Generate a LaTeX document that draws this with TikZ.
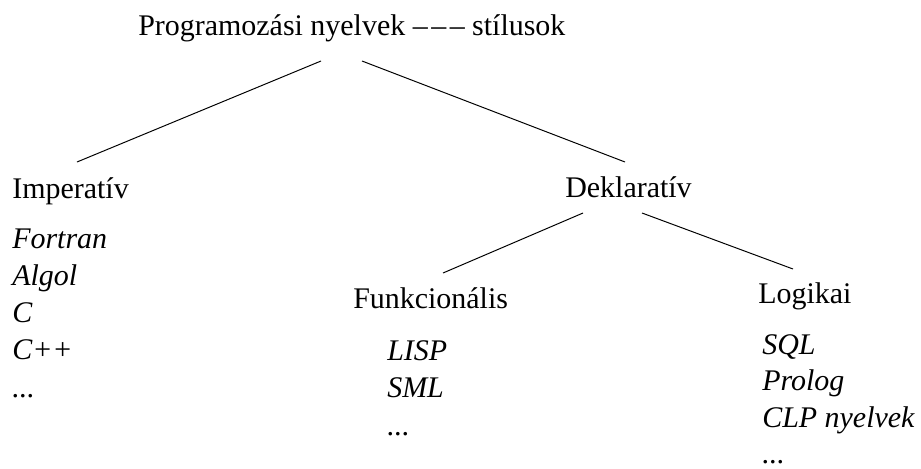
\documentclass[tikz,border=0pt]{standalone}
\usepackage{fontspec}
\setmainfont{Liberation Serif}
\usepackage{tikz}
\newcommand{\etc}{...}
\newcommand{\dashes}{\textendash\kern2.5pt\textendash\kern2.5pt\textendash}
\tikzset{
  lbl/.style     = {anchor=base west,inner sep=0pt,font=\fontsize{21.3}{25}\selectfont},
  langitem/.style = {lbl,font=\fontsize{21.3}{25}\selectfont\itshape},
  branch/.style  = {line width=0.7pt,black}
}

\begin{document}
\begin{tikzpicture}[x=0.025cm,y=-0.025cm]
  \useasboundingbox (0,0) rectangle (921,468);
  % headings
  \node[lbl] (title) at (138,35)  {Programozási nyelvek \dashes{} stílusok};
  \node[lbl] (imp)   at (12,198)  {Imperatív};
  \node[lbl] (dekl)  at (565,197) {Deklaratív};
  \node[lbl] (funk)  at (353,308) {Funkcionális};
  \node[lbl] (logi)  at (758,303) {Logikai};
  % language lists
  \foreach \lang [count=\i] in {Fortran,Algol,C,C++,\etc}
    \node[langitem] (imp-\i) at (12,210.7+37.3*\i) {\lang};
  \foreach \lang [count=\i] in {LISP,SML,\etc}
    \node[langitem] (funk-\i) at (387,322.5+37.5*\i) {\lang};
  \foreach \lang [count=\i] in {SQL,Prolog,CLP nyelvek,\etc}
    \node[langitem] (logi-\i) at (762,317.5+36.5*\i) {\lang};
  % tree branches
  \draw[branch] ([shift={(183,26)}]title.base west) -- ([shift={(65,-36)}]imp.base west);
  \draw[branch] ([shift={(224,26)}]title.base west) -- ([shift={(60,-35)}]dekl.base west);
  \draw[branch] ([shift={(18,16)}]dekl.base west)   -- ([shift={(90,-35)}]funk.base west);
  \draw[branch] ([shift={(77,16)}]dekl.base west)   -- ([shift={(35,-34)}]logi.base west);
\end{tikzpicture}
\end{document}
